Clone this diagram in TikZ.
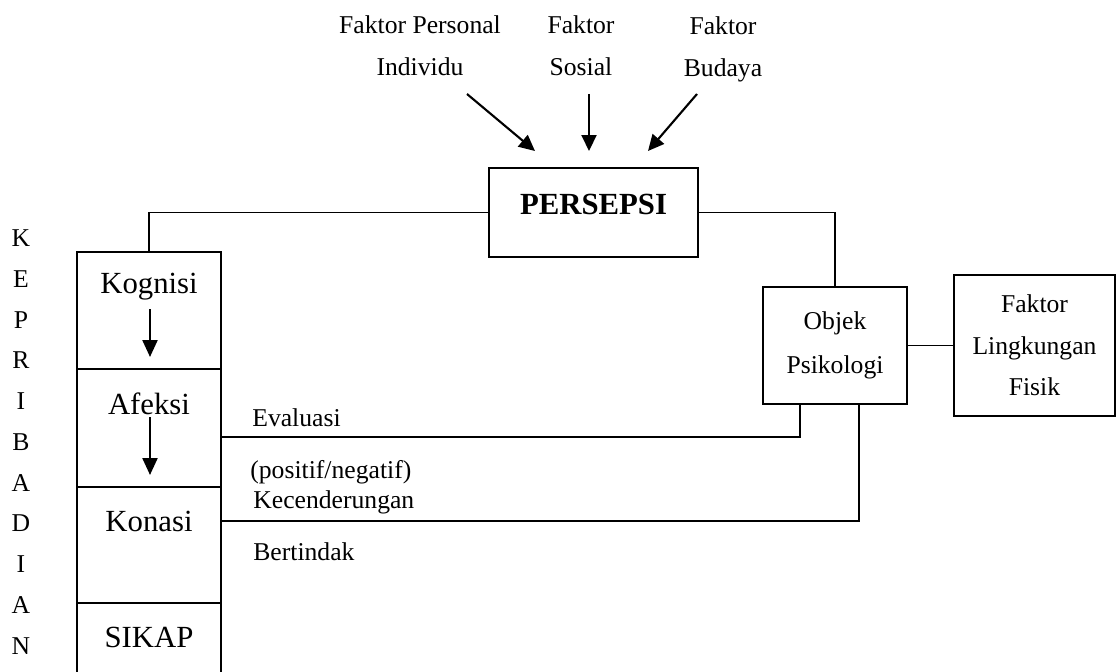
\documentclass[tikz,border=0pt]{standalone}
\usepackage{fontspec}
\setmainfont{Liberation Serif}
\usetikzlibrary{arrows.meta,positioning}
\tikzset{
	colbox/.style={rectangle, draw=black, line width=0.7pt, minimum width=2.88cm,
		inner sep=0pt, outer sep=0pt},
	boxtxt/.style={font=\fontsize{17.5}{21}\selectfont, inner sep=0pt},
	smalltxt/.style={font=\fontsize{14.6}{24}\selectfont, align=center, inner sep=0pt},
	linetxt/.style={font=\fontsize{14.6}{18}\selectfont, anchor=west, inner sep=0pt},
	link/.style={line width=0.8pt},
	downarr/.style={-{Triangle[length=0.34cm, width=0.3cm]}, line width=1.3pt},
	factarr/.style={-{Triangle[length=0.32cm, width=0.3cm]}, line width=1.2pt}
}
\begin{document}
\begin{tikzpicture}[x=0.02cm, y=-0.02cm]
	\useasboundingbox (0,0) rectangle (1118,672);
	\clip (0,0) rectangle (1118,672);
	% kolom kepribadian
	\node[colbox, minimum height=2.34cm] (kog) at (149,310.5) {};
	\node[colbox, minimum height=2.36cm, below=0pt of kog] (afe) {};
	\node[colbox, minimum height=2.32cm, below=0pt of afe] (kon) {};
	\node[colbox, minimum height=2.4cm, below=0pt of kon] (sik) {};
	\node[boxtxt] (kogt) at (149,287) {Kognisi};
	\node[boxtxt] (afet) at (149,404) {Afeksi};
	\node[boxtxt] (kont) at (149,521) {Konasi};
	\node[boxtxt] (sikt) at (149,637) {SIKAP};
	\coordinate (k1) at (150,309);
	\coordinate (k2) at (150,357);
	\coordinate (a1) at (150,417);
	\coordinate (a2) at (150,475);
	\draw[downarr] (k1)--(k2);
	\draw[downarr] (a1)--(a2);
	\node[smalltxt, font=\fontsize{14.6}{23.2}\selectfont] (kepr) at (21,442)
		{K\\E\\P\\R\\I\\B\\A\\D\\I\\A\\N};
	% persepsi dan faktor
	\node[draw, line width=1.5pt, minimum width=4.18cm, minimum height=1.78cm,
		text height=0.41cm, text depth=0.32cm,
		font=\fontsize{17.5}{21}\selectfont\bfseries] (persepsi) at (593.5,212.5) {PERSEPSI};
	\node[smalltxt, font=\fontsize{14.6}{23.8}\selectfont] (fpers) at (420,46) {Faktor Personal\\Individu};
	\node[smalltxt, font=\fontsize{14.6}{23.8}\selectfont] (fsos) at (581,46) {Faktor\\Sosial};
	\node[smalltxt, font=\fontsize{14.6}{23.8}\selectfont] (fbud) at (723,49) {Faktor\\Budaya};
	\coordinate (p1) at (467,94);
	\coordinate (p2) at (535,151);
	\coordinate (s1) at (589,94);
	\coordinate (s2) at (589,151);
	\coordinate (b1) at (697,94);
	\coordinate (b2) at (648,151);
	\draw[factarr] (p1)--(p2);
	\draw[factarr] (s1)--(s2);
	\draw[factarr] (b1)--(b2);
	% objek
	\node[draw, line width=1.1pt, minimum width=2.88cm, minimum height=2.34cm, smalltxt,
		font=\fontsize{14.6}{25}\selectfont] (objek) at (835,345.5) {Objek\\Psikologi};
	\node[draw, line width=0.7pt, minimum width=3.22cm, minimum height=2.82cm, smalltxt,
		font=\fontsize{14.6}{23.5}\selectfont] (lingk) at (1034.5,345.5) {Faktor\\Lingkungan\\Fisik};
	\draw[link] (kog.north) |- (persepsi.west);
	\draw[link] (persepsi.east) -| (objek.north);
	\draw[link] (objek.east) -- (lingk.west);
	\draw[link] ([xshift=-0.7cm]objek.south) |- ([yshift=-0.18cm]afe.east);
	\draw[link] ([xshift=0.48cm]objek.south) |- ([yshift=0.48cm]kon.east);
	\node[linetxt] (eval) at (252,418) {Evaluasi};
	\node[linetxt] (posneg) at (250,472) {(positif/negatif)};
	\node[linetxt] (kecend) at (253,502) {Kecenderungan};
	\node[linetxt] (bertin) at (253,552) {Bertindak};
\end{tikzpicture}
\end{document}
